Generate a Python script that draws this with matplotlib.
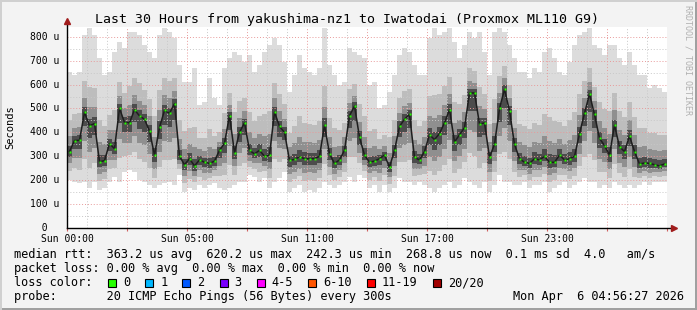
import matplotlib
matplotlib.use("Agg")
import matplotlib.pyplot as plt
from matplotlib.ticker import MultipleLocator
from matplotlib.transforms import blended_transform_factory
from matplotlib.patches import Rectangle

plt.rcParams["font.family"] = ["DejaVu Sans Mono"]

# Median RTT (microseconds), one value per 15 minutes over 30 hours
median = [320, 366, 367, 484, 428, 437, 277, 282, 353, 332, 501, 441, 440, 495, 469, 455, 406, 305, 421, 492,
          480, 520, 300, 265, 290, 260, 285, 275, 270, 280, 325, 355, 470, 315, 400, 440, 325, 310, 325, 300,
          305, 485, 425, 400, 283, 287, 298, 290, 290, 290, 300, 430, 310, 270, 285, 325, 470, 510, 380, 305,
          275, 280, 290, 305, 255, 325, 425, 455, 475, 295, 285, 320, 390, 370, 395, 440, 495, 360, 390, 420,
          565, 565, 435, 440, 296, 350, 500, 580, 490, 350, 290, 275, 270, 290, 285, 300, 275, 275, 305, 285,
          290, 300, 395, 480, 560, 475, 375, 345, 305, 430, 340, 320, 385, 320, 268, 272, 270, 265, 260, 268]

# fastest ping in each slot
rtt_low = [201, 194, 187, 194, 166, 194, 159, 166, 194, 215, 194, 236, 243, 236, 201, 194, 180, 166, 180, 187,
           194, 180, 222, 152, 166, 159, 180, 166, 180, 187, 166, 159, 166, 180, 194, 194, 222, 215, 194, 208,
           166, 194, 208, 236, 152, 166, 180, 152, 159, 152, 166, 194, 180, 166, 180, 194, 215, 194, 222, 208,
           166, 180, 152, 180, 152, 166, 208, 194, 194, 180, 194, 180, 166, 152, 166, 180, 194, 166, 180, 208,
           194, 180, 166, 194, 152, 180, 222, 194, 194, 180, 180, 194, 166, 180, 180, 194, 152, 166, 180, 194,
           166, 180, 194, 208, 194, 194, 166, 180, 166, 194, 180, 166, 180, 166, 180, 194, 180, 194, 194, 194]

# slowest ping in each slot
rtt_high = [654, 640, 654, 808, 836, 808, 710, 640, 654, 738, 780, 752, 822, 822, 808, 766, 738, 710, 808, 836,
            822, 794, 682, 612, 612, 668, 515, 529, 626, 543, 515, 668, 710, 738, 724, 696, 724, 654, 682, 738,
            766, 794, 766, 696, 570, 640, 724, 668, 654, 640, 668, 836, 682, 640, 598, 612, 752, 738, 724, 710,
            598, 612, 501, 515, 570, 640, 724, 752, 738, 682, 640, 640, 794, 836, 808, 822, 836, 780, 710, 766,
            822, 794, 822, 738, 640, 822, 836, 822, 766, 710, 654, 654, 626, 668, 654, 738, 752, 710, 654, 640,
            696, 766, 808, 822, 836, 766, 752, 724, 766, 766, 710, 682, 738, 682, 640, 640, 584, 598, 584, 570]

x_labels = ["Sun 00:00", "", "Sun 05:00", "", "Sun 11:00", "", "Sun 17:00", "", "Sun 23:00", "", ""]
y_values = [0, 100, 200, 300, 400, 500, 600, 700, 800]
y_labels = ["  0", "100 u", "200 u", "300 u", "400 u", "500 u", "600 u", "700 u", "800 u"]

loss_labels = ["0", "1", "2", "3", "4-5", "6-10", "11-19", "20/20"]
loss_colors = ["#26ff00", "#00b8ff", "#0059ff", "#7a00ff", "#ff00ff", "#ff5500", "#ff0000", "#a10000"]

step = 0.25  # hours per slot
hours = [step * i + step / 2 for i in range(len(median))]

W, H = 697, 310
fig = plt.figure(figsize=(W / 100, H / 100), dpi=100)
fig.patch.set_facecolor("#f3f3f3")

ax = fig.add_axes([67 / W, 82 / H, 600 / W, 201 / H])
ax.set_facecolor("white")
ax.set_xlim(0, 30)
ax.set_ylim(0, 841)

# smoke: outer band is lowest..highest ping, inner bands hug the median
bands = [(1.0, 1.0, "#dcdcdc"), (0.68, 0.4, "#bdbdbd"), (0.42, 0.19, "#8f8f8f"), (0.2, 0.07, "#4c4c4c")]
for f_lo, f_hi, col in bands:
    bottoms = [m - f_lo * (m - lo) for m, lo in zip(median, rtt_low)]
    tops = [m + f_hi * (hi - m) for m, hi in zip(median, rtt_high)]
    heights = [t - b for t, b in zip(tops, bottoms)]
    ax.bar(hours, heights, bottom=bottoms, width=step, color=col, linewidth=0, zorder=1)

ax.plot(hours, median, color="#1e1e1e", lw=1.1, zorder=3)
ax.plot(hours, median, ls="none", marker="s", ms=2.1, mec="none", mfc="#26ff00", zorder=4)

# grid
ax.xaxis.set_major_locator(MultipleLocator(3))
ax.xaxis.set_minor_locator(MultipleLocator(1))
ax.set_yticks(y_values)
ax.yaxis.set_minor_locator(MultipleLocator(50))
ax.grid(which="minor", color="#c8c8c8", ls=(0, (1, 2)), lw=0.7, zorder=2)
ax.grid(which="major", color="#e89a9a", ls=(0, (1, 2)), lw=0.7, zorder=2)
ax.set_xticks([3 * k for k in range(11)])
ax.set_xticklabels(x_labels, fontsize=7)
ax.tick_params(axis="x", which="major", color="#d06060", length=2.5, width=0.8, pad=1.5)
ax.tick_params(axis="x", which="minor", length=0)
ax.tick_params(axis="y", which="both", length=0, labelleft=False)
for s in ax.spines.values():
    s.set_visible(False)

# axes lines with arrows
ax.plot([0, 0], [0, 1.025], transform=ax.transAxes, color="black", lw=1, clip_on=False, zorder=5)
ax.plot([0, 1.01], [0, 0], transform=ax.transAxes, color="black", lw=1, clip_on=False, zorder=5)
ax.plot([0], [1.03], transform=ax.transAxes, marker="^", ms=4, color="#a01c1c", clip_on=False, zorder=6)
ax.plot([1.012], [0], transform=ax.transAxes, marker=">", ms=4, color="#a01c1c", clip_on=False, zorder=6)

# y tick labels, left aligned like rrdtool
tr = blended_transform_factory(fig.transFigure, ax.transData)
for v, lab in zip(y_values, y_labels):
    ax.text(30 / W, v, lab, transform=tr, fontsize=7, ha="left", va="center", color="black")

fig.text(347 / W, 1 - 19 / H, "Last 30 Hours from yakushima-nz1 to Iwatodai (Proxmox ML110 G9)",
         fontsize=9.5, ha="center", va="center")
fig.text(10 / W, 1 - 127.5 / H, "Seconds", fontsize=7.5, rotation=90, ha="center", va="center")
fig.text(688 / W, 1 - 60 / H, "RRDTOOL / TOBI OETIKER", fontsize=6, rotation=270,
         ha="center", va="center", color="#b0b0b0")

# legend block
fs = 8.6
cw = 7.17  # char width in px
fig.text(14 / W, 1 - 258 / H,
         "median rtt:  363.2 us avg  620.2 us max  242.3 us min  268.8 us now  0.1 ms sd  4.0   am/s",
         fontsize=fs, va="baseline")
fig.text(14 / W, 1 - 272 / H, "packet loss: 0.00 % avg  0.00 % max  0.00 % min  0.00 % now",
         fontsize=fs, va="baseline")
fig.text(14 / W, 1 - 286 / H, "loss color:", fontsize=fs, va="baseline")
x = 108
for lab, col in zip(loss_labels, loss_colors):
    fig.add_artist(Rectangle((x / W, 1 - 286.5 / H), 8 / W, 8 / H, transform=fig.transFigure,
                             facecolor=col, edgecolor="black", lw=0.8))
    fig.text((x + 15) / W, 1 - 286 / H, lab, fontsize=fs, va="baseline")
    x = x + 15 + len(lab) * cw + 15
fig.text(14 / W, 1 - 300 / H, "probe:       20 ICMP Echo Pings (56 Bytes) every 300s",
         fontsize=fs, va="baseline")
fig.text(513 / W, 1 - 300 / H, "Mon Apr  6 04:56:27 2026", fontsize=fs, va="baseline")

# 3d frame around the image
fig.add_artist(Rectangle((0, 0), 1, 2 / H, transform=fig.transFigure, color="#a0a0a0", lw=0))
fig.add_artist(Rectangle((1 - 2 / W, 0), 2 / W, 1, transform=fig.transFigure, color="#a0a0a0", lw=0))
fig.add_artist(Rectangle((0, 1 - 2 / H), 1, 2 / H, transform=fig.transFigure, color="#d0d0d0", lw=0))
fig.add_artist(Rectangle((0, 0), 2 / W, 1, transform=fig.transFigure, color="#d0d0d0", lw=0))

fig.savefig("out.png", dpi=100, facecolor=fig.get_facecolor())
